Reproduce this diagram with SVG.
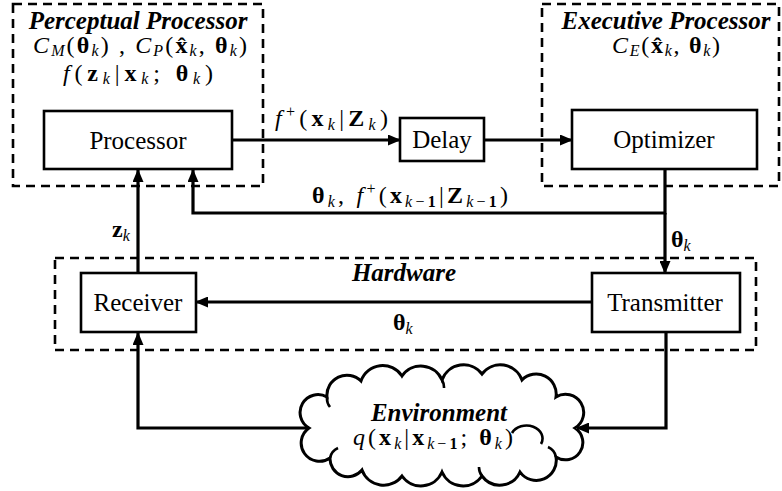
<svg xmlns="http://www.w3.org/2000/svg" width="782" height="491" viewBox="0 0 782 491">
<style>
.bg{fill:#fff}
.grp{fill:none;stroke:#000;stroke-width:2.6;stroke-dasharray:9 6}
.box{fill:#fff;stroke:#000;stroke-width:2.6}
.cn{fill:none;stroke:#000;stroke-width:3.2}
.t{font-family:"Liberation Serif","Times New Roman",serif;font-size:25px;fill:#000}
.h{font-family:"Liberation Serif","Times New Roman",serif;font-size:25px;font-weight:bold;font-style:italic;fill:#000}
.m{font-family:"Liberation Serif","Times New Roman",serif;font-size:24px;fill:#000}
.i{font-style:italic}
.b{font-weight:bold}
.s{font-size:16px;font-style:italic}
.sb{font-size:16px;font-weight:bold}
.sp{font-size:16px}
.cloud{fill:#fff;stroke:#000;stroke-width:3}
.inner{fill:none;stroke:#000;stroke-width:2.6}
</style>
<defs>
<marker id="ah" markerUnits="userSpaceOnUse" markerWidth="13" markerHeight="11" refX="12" refY="5.5" orient="auto">
<path d="M0,0 L13,5.5 L0,11 Z" fill="#000"/>
</marker>
</defs>
<rect class="bg" x="0" y="0" width="782" height="491"/>

<g id="perceptual-group">
<rect class="grp" x="13" y="4" width="250" height="182"/>
<text class="h" x="138" y="29" text-anchor="middle">Perceptual Processor</text>
<text class="m" x="140" y="53" text-anchor="middle" textLength="214"><tspan class="i">C</tspan><tspan class="s" dy="3">M</tspan><tspan dy="-3">(</tspan><tspan class="b">θ</tspan><tspan class="s" dy="3">k</tspan><tspan dy="-3">) , </tspan><tspan class="i">C</tspan><tspan class="s" dy="3">P</tspan><tspan dy="-3">(</tspan><tspan class="b">x̂</tspan><tspan class="s" dy="3">k</tspan><tspan dy="-3">, </tspan><tspan class="b">θ</tspan><tspan class="s" dy="3">k</tspan><tspan dy="-3">)</tspan></text>
<text class="m" x="138" y="81" text-anchor="middle" textLength="150"><tspan class="i">f</tspan><tspan>(</tspan><tspan class="b">z</tspan><tspan class="s" dy="3">k</tspan><tspan dy="-3">|</tspan><tspan class="b">x</tspan><tspan class="s" dy="3">k</tspan><tspan dy="-3">; </tspan><tspan class="b">θ</tspan><tspan class="s" dy="3">k</tspan><tspan dy="-3">)</tspan></text>
</g>

<g id="executive-group">
<rect class="grp" x="542" y="4" width="237" height="182"/>
<text class="h" x="666" y="29" text-anchor="middle">Executive Processor</text>
<text class="m" x="666" y="53" text-anchor="middle" textLength="108"><tspan class="i">C</tspan><tspan class="s" dy="3">E</tspan><tspan dy="-3">(</tspan><tspan class="b">x̂</tspan><tspan class="s" dy="3">k</tspan><tspan dy="-3">, </tspan><tspan class="b">θ</tspan><tspan class="s" dy="3">k</tspan><tspan dy="-3">)</tspan></text>
</g>

<g id="hardware-group">
<rect class="grp" x="55" y="258" width="701" height="92"/>
<text class="h" x="404" y="281" text-anchor="middle">Hardware</text>
</g>

<g id="connectors">
<line class="cn" x1="232" y1="140" x2="400" y2="140" marker-end="url(#ah)"/>
<line class="cn" x1="484" y1="140" x2="572" y2="140" marker-end="url(#ah)"/>
<polyline class="cn" points="665,169 665,213 193,213 193,170" marker-end="url(#ah)"/>
<line class="cn" x1="665" y1="213" x2="665" y2="273" marker-end="url(#ah)"/>
<line class="cn" x1="592" y1="302" x2="196" y2="302" marker-end="url(#ah)"/>
<line class="cn" x1="138" y1="273" x2="138" y2="170" marker-end="url(#ah)"/>
<polyline class="cn" points="666,332 666,428 577,428" marker-end="url(#ah)"/>
<polyline class="cn" points="310,428 138,428 138,333" marker-end="url(#ah)"/>
<text class="m" x="275" y="126" textLength="113"><tspan class="i">f</tspan><tspan class="sp" dy="-9">+</tspan><tspan dy="9">(</tspan><tspan class="b">x</tspan><tspan class="s" dy="4">k</tspan><tspan dy="-4">|</tspan><tspan class="b">Z</tspan><tspan class="s" dy="4">k</tspan><tspan dy="-4">)</tspan></text>
<text class="m" x="312" y="203" textLength="196"><tspan class="b">θ</tspan><tspan class="s" dy="4">k</tspan><tspan dy="-4">, </tspan><tspan class="i">f</tspan><tspan class="sp" dy="-9">+</tspan><tspan dy="9">(</tspan><tspan class="b">x</tspan><tspan class="s" dy="4">k</tspan><tspan class="sp">−</tspan><tspan class="sb">1</tspan><tspan dy="-4">|</tspan><tspan class="b">Z</tspan><tspan class="s" dy="4">k</tspan><tspan class="sp">−</tspan><tspan class="sb">1</tspan><tspan dy="-4">)</tspan></text>
<text class="m" x="671" y="247"><tspan class="b">θ</tspan><tspan class="s" dy="4">k</tspan></text>
<text class="m" x="112" y="237"><tspan class="b">z</tspan><tspan class="s" dy="4">k</tspan></text>
<text class="m" x="393" y="330"><tspan class="b">θ</tspan><tspan class="s" dy="4">k</tspan></text>
</g>

<g id="processor">
<rect class="box" x="44" y="111" width="188" height="58"/>
<text class="t" x="138" y="149" text-anchor="middle">Processor</text>
</g>
<g id="delay">
<rect class="box" x="400" y="118" width="84" height="43"/>
<text class="t" x="442" y="148" text-anchor="middle">Delay</text>
</g>
<g id="optimizer">
<rect class="box" x="572" y="110" width="185" height="59"/>
<text class="t" x="664" y="148" text-anchor="middle">Optimizer</text>
</g>
<g id="receiver">
<rect class="box" x="81" y="273" width="115" height="59"/>
<text class="t" x="138" y="311" text-anchor="middle">Receiver</text>
</g>
<g id="transmitter">
<rect class="box" x="592" y="273" width="148" height="59"/>
<text class="t" x="665" y="311" text-anchor="middle">Transmitter</text>
</g>

<g id="environment">
<path class="cloud" d="M309,428 A17,17 0 0 1 327,397 A20,20 0 0 1 361,381 A23,23 0 0 1 402,376 A23,23 0 0 1 442,380 A23,23 0 0 1 482,374 A23,23 0 0 1 522,380 A20,20 0 0 1 556,397 A17,17 0 0 1 575,428 A17,17 0 0 1 556,457 A20,20 0 0 1 520,472 A22,22 0 0 1 482,476 A23,23 0 0 1 442,472 A23,23 0 0 1 402,476 A23,23 0 0 1 362,470 A18,18 0 0 1 330,458 A17,17 0 0 1 309,428 Z"/>
<path class="inner" d="M327,397 A14,14 0 0 0 330,407 M330,458 A14,14 0 0 1 338,448 M442,380 A14,14 0 0 1 444,388 M482,476 A14,14 0 0 1 479,467 M556,457 A14,14 0 0 0 548,447 M512,433 A16,13 0 0 1 541,444"/>
<text class="h" x="439" y="421" text-anchor="middle">Environment</text>
<text class="m" x="433" y="445" text-anchor="middle" textLength="160"><tspan class="i">q</tspan><tspan>(</tspan><tspan class="b">x</tspan><tspan class="s" dy="4">k</tspan><tspan dy="-4">|</tspan><tspan class="b">x</tspan><tspan class="s" dy="4">k</tspan><tspan class="sp">−</tspan><tspan class="sb">1</tspan><tspan dy="-4">; </tspan><tspan class="b">θ</tspan><tspan class="s" dy="4">k</tspan><tspan dy="-4">)</tspan></text>
</g>
</svg>
